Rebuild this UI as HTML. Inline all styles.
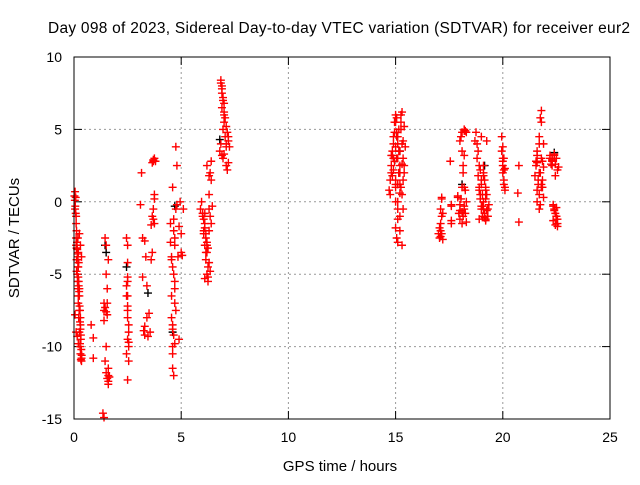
<!DOCTYPE html>
<html><head><meta charset="utf-8"><style>
body{margin:0;background:#fff}
svg{font-family:"Liberation Sans",sans-serif}
</style></head><body>
<svg id="chart" width="640" height="480">
<rect width="640" height="480" fill="#fff"/>
<text x="339" y="33" font-size="15.5" text-anchor="middle" textLength="582">Day 098 of 2023, Sidereal Day-to-day VTEC variation (SDTVAR) for receiver eur2</text>
<text x="340" y="471" font-size="15" text-anchor="middle">GPS time / hours</text>
<text transform="translate(19,238) rotate(-90)" font-size="15" text-anchor="middle">SDTVAR / TECUs</text>
<g id="grid"></g><g id="ticks"></g><g id="marks"></g>
<rect x="74" y="57" width="536" height="362" fill="none" stroke="#000"/>
</svg>
<script>
const xTicks=[0,5,10,15,20,25];
const yTicks=[10,5,0,-5,-10,-15];
const redHours=[0.05,0.05,0.08,0.1,0.1,0.12,0.12,0.15,0.15,0.18,0.18,0.2,0.2,0.22,0.22,0.25,0.25,0.28,0.28,0.3,0.3,0.32,0.35,0.35,0.1,0.15,0.2,0.25,0.3,0.05,0.1,0.15,0.2,0.25,0.3,0.35,
0.8,0.9,0.9,
1.35,1.4,1.4,1.45,1.45,1.5,1.5,1.55,1.55,1.6,1.6,1.6,1.4,1.5,1.55,1.6,1.4,
2.45,2.5,2.5,2.5,2.5,2.55,2.55,2.55,2.5,2.5,2.5,2.55,2.45,2.5,
3.1,3.15,3.2,3.3,3.35,3.4,3.4,3.45,3.6,3.65,3.7,3.7,3.75,3.75,3.6,3.65,3.5,3.55,
4.5,4.55,4.55,4.6,4.6,4.6,4.65,4.65,4.7,4.7,4.75,4.75,4.8,4.6,4.7,4.9,5.0,5.0,5.1,4.95,5.05,4.9,
5.95,6.0,6.05,6.1,6.1,6.15,6.15,6.2,6.2,6.25,6.25,6.3,6.3,6.35,6.35,6.4,6.4,6.2,6.3,6.1,
6.8,6.85,6.85,6.9,6.9,6.95,6.95,7.0,7.0,7.05,7.1,7.1,7.15,7.2,6.9,7.0,
14.75,14.8,14.85,14.9,14.95,15.0,15.0,15.05,15.05,15.1,15.1,15.15,15.2,15.2,15.25,15.3,15.3,15.35,15.35,15.4,14.9,15.0,15.1,15.2,15.3,15.0,15.1,15.05,15.2,15.25,
17.05,17.1,17.1,17.15,17.15,17.2,17.55,17.6,17.6,17.6,17.9,18.0,18.0,18.1,18.1,18.15,18.2,18.2,18.25,18.3,18.3,18.1,18.2,
18.75,18.8,18.85,18.9,18.9,18.95,19.0,19.0,19.05,19.1,19.1,19.15,19.2,19.2,19.25,19.3,19.0,19.1,19.2,
19.95,20.0,20.0,20.05,20.05,20.1,20.1,20.0,
20.75,20.75,20.7,
21.55,21.6,21.6,21.65,21.7,21.7,21.75,21.8,21.8,21.85,21.9,21.7,21.8,21.6,
22.2,22.3,22.35,22.4,22.45,22.5,22.5,22.55,22.4,22.5,22.3,22.45,22.55];
const redValues=[0.7,-0.5,0.3,-1.5,-3,-2,-4,-3.3,-5,-2.5,-6,-3.5,-7,-5.5,-8,-6.5,-9,-7.5,-10,-8.5,-10.5,-9.5,-11,-10.8,-1,-4,-4.5,-6,-8,-7.8,-9,-9.3,-9.8,-2.2,-3,-3.8,
-8.5,-9.4,-10.8,
-14.6,-14.9,-7.5,-11,-2.5,-3,-5,-6,-7.8,-11.5,-12,-12.4,-8.2,-10,-7,-4,-7,
-2.5,-5.5,-6.5,-7.2,-8,-9,-10,-11,-12.3,-4.2,-5.2,-9.7,-6.5,-3,
-0.2,2,-2.5,-2.7,-3.8,-5.8,-8,-9.3,-1.6,-1,-0.5,2.8,0.5,-1.5,-4,-3.5,-7.7,-9,
-1.5,-4,-6.5,-8.5,-10,-11.5,-12,-2,-3,-5.5,-0.5,3.8,2.5,1,-7,-9.5,-2.2,-3.5,-0.5,0,-3.7,-1.7,
0,-1,-2,-1.5,-3,-2.5,-4,-3.5,-5,-4.5,-5.5,-2,0.5,-1,2,2.8,1.5,-3,-0.5,-5.3,
3.5,4,8.4,8,6.5,7,5,5.5,3.3,4.5,3.8,2.5,2.2,4.5,7.5,6,
0.5,2,3.5,4.5,5.5,6,1,3,-2.5,4,0,2,2.5,-1,5.5,6.2,4,3,1.5,2.5,3,1.2,-0.5,-2,-3,0,-1.2,4.8,1.2,5,
-2.5,-1.5,-0.5,-2.2,0.3,-2.6,2.8,-0.2,-1.3,-0.3,0.3,-1.2,4.2,-0.7,3.5,2,5,1,-0.8,4.8,0,-1.5,-0.3,
4.8,4,3.5,2.5,-1.2,0.5,-0.5,1.5,-1,0,2.5,1.5,-1.3,1,0.5,-1,4.5,-0.5,0.2,
4.5,3.8,2.5,1.5,3,0.8,2.3,3,
2.5,-1.4,0.6,
2.5,0.8,3.2,1.5,4,2,-0.2,5.5,6.3,1,4,-0.5,1,2.7,
3,2.5,-0.3,-0.6,2.6,3,-1,2.2,3.2,-1.2,2.9,1.8,-1.7];
const redHours2=[0.02,0.04,0.06,0.08,0.1,0.12,0.14,0.16,0.18,0.2,0.22,0.24,0.26,0.28,0.3,0.32,0.34,0.36,0.12,0.16,0.2,0.24,0.28,0.32,0.14,0.18,0.22,
1.5,1.55,1.6,1.65,1.45,1.5,2.45,2.5,2.55,2.5,2.45,
3.65,3.7,3.75,3.8,3.7,3.75,3.2,3.25,3.3,3.3,
4.5,4.55,4.6,4.65,4.7,4.75,4.55,4.6,4.65,4.7,4.6,4.65,4.7,4.8,4.85,
5.9,6.0,6.05,6.1,6.15,6.2,6.25,6.3,6.35,6.4,6.45,6.1,6.2,6.3,6.05,6.15,6.25,
6.85,6.9,6.95,7.0,7.05,7.1,7.15,7.2,7.25,6.9,6.95,7.0,7.1,7.2,
14.7,14.75,14.8,14.85,14.9,14.95,15.0,15.05,15.1,15.15,15.2,15.25,15.3,15.35,15.4,15.45,14.8,14.9,15.0,15.1,15.2,15.3,15.4,14.85,14.95,15.05,15.15,15.25,15.35,15.0,15.1,15.2,15.1,15.15,15.0,
17.0,17.05,17.1,17.15,17.2,17.1,17.15,17.6,17.9,17.95,18.0,18.05,18.1,18.15,18.2,18.25,18.3,18.0,18.05,18.1,18.15,18.2,18.25,18.2,
18.7,18.8,18.85,18.9,18.95,19.0,19.05,19.1,19.15,19.2,19.25,19.3,19.35,18.9,19.0,19.1,19.2,19.3,18.95,19.05,19.15,19.25,
19.95,20.0,20.05,20.1,20.0,20.05,
21.5,21.55,21.6,21.65,21.7,21.75,21.8,21.85,21.9,21.6,21.7,21.8,21.9,21.75,21.85,
22.2,22.25,22.3,22.35,22.4,22.45,22.5,22.55,22.6,22.3,22.4,22.5,22.35,22.45,22.55,22.6];
const redValues2=[0.4,0.1,-0.3,-0.8,-2.5,-3.2,-2.8,-3.6,-4.5,-5.2,-5.8,-6.2,-7.2,-8.3,-8.8,-9.2,-10.2,-10.6,-4.8,-5.5,-6.5,-7.5,-9.8,-10.9,-3.2,-3.8,-4.2,
-11.8,-12.2,-12.6,-12.1,-7.3,-7.6,-5.8,-7.5,-8.5,-9.5,-10.5,
2.7,2.9,3.0,2.8,-1.2,0.2,-5.2,-8.9,-9.2,-8.6,
-2.8,-3.8,-4.5,-5,-6,-7.5,-8,-8.8,-9.2,-9.8,-10.5,-1.2,-2.5,-0.2,-3.8,
-0.5,-0.8,-1.2,-1.8,-2.2,-2.8,-3.2,-4.2,-4.8,-1.5,-0.3,-0.8,2.5,1.8,-2.2,-3.5,-5.2,
8.2,7.8,7.2,6.2,5.8,5.2,4.8,4.2,3.8,3.2,3.0,6.8,4.0,2.7,
0.8,1.5,2.5,3.2,4.0,4.8,5.5,5.8,4.5,3.5,2.0,1.0,0.5,4.2,5.2,3.8,3.2,2.2,1.5,3.0,3.5,2.6,2.0,1.8,2.8,4.5,5.0,6.0,-0.5,-1.8,-2.8,0.6,1.2,2.0,3.8,
-2.2,-1.8,-2.4,-1.0,-0.8,-2.0,0.2,-1.5,0.4,-0.8,-0.2,4.5,4.8,-1.0,-0.5,0.8,-1.4,-0.6,0.2,1.0,2.5,3.2,4.9,
4.9,4.2,3.0,1.8,1.0,0.2,-0.3,0.5,1.8,-0.8,-1.2,-0.6,-1.0,-0.2,0.8,1.2,2.0,0.8,-0.5,2.2,-0.3,-1.1,
4.2,3.5,2.0,1.2,1.0,2.8,
2.2,1.8,2.8,3.5,1.2,4.5,5.8,3.0,1.5,0.3,0.0,0.5,1.2,2.4,2.0,
2.8,3.2,2.6,3.0,-0.2,-0.5,-0.8,-1.0,-1.5,2.4,2.8,3.3,-0.4,-1.3,-1.6,-1.2];
const blackHours=[1.45,1.5,2.45,3.45,4.6,4.7,6.8,15.2,18.1,19.15,22.4];
const blackValues=[-3,-3.5,-4.5,-6.3,-9,-0.3,4.3,3.5,1.2,2.5,3.4];
const X=h=>74+h*(536/25), Y=v=>57+(10-v)*(362/25);
const NS="http://www.w3.org/2000/svg";
const grid=document.getElementById('grid'),ticks=document.getElementById('ticks'),marks=document.getElementById('marks');
function mk(tag,attrs,parent){const e=document.createElementNS(NS,tag);for(const k in attrs)e.setAttribute(k,attrs[k]);parent.appendChild(e);return e;}
xTicks.forEach(t=>{const x=X(t);
 if(t>0&&t<25){const g=mk('line',{x1:x,x2:x,y1:57,y2:419,stroke:'#999','stroke-dasharray':'2,3'},grid);
 
 }
 mk('line',{x1:x,x2:x,y1:419,y2:411,stroke:'#000'},ticks);mk('line',{x1:x,x2:x,y1:57,y2:65,stroke:'#000'},ticks);
 const l=mk('text',{x:x,y:442,'font-size':14,'text-anchor':'middle'},ticks);l.textContent=t;
 
 });
yTicks.forEach(t=>{const y=Y(t);
 if(t<10&&t>-15){const g=mk('line',{x1:74,x2:610,y1:y,y2:y,stroke:'#999','stroke-dasharray':'2,3'},grid);
 
 }
 mk('line',{x1:74,x2:82,y1:y,y2:y,stroke:'#000'},ticks);mk('line',{x1:602,x2:610,y1:y,y2:y,stroke:'#000'},ticks);
 const l=mk('text',{x:62,y:y+5,'font-size':14,'text-anchor':'end'},ticks);l.textContent=t;
 
 });
function plus(h,v,c,name){const x=X(h),y=Y(v);
 const p=mk('path',{d:`M${x-4},${y}h8M${x},${y-4}v8`,stroke:c,'stroke-width':1.4,fill:'none'},marks);
 
 }
blackHours.forEach((h,i)=>plus(h,blackValues[i],'#000','black-point'));
redHours.forEach((h,i)=>plus(h,redValues[i],'#f00','red-point'));
redHours2.forEach((h,i)=>plus(h,redValues2[i],'#f00','red-point'));
</script>
</body></html>
